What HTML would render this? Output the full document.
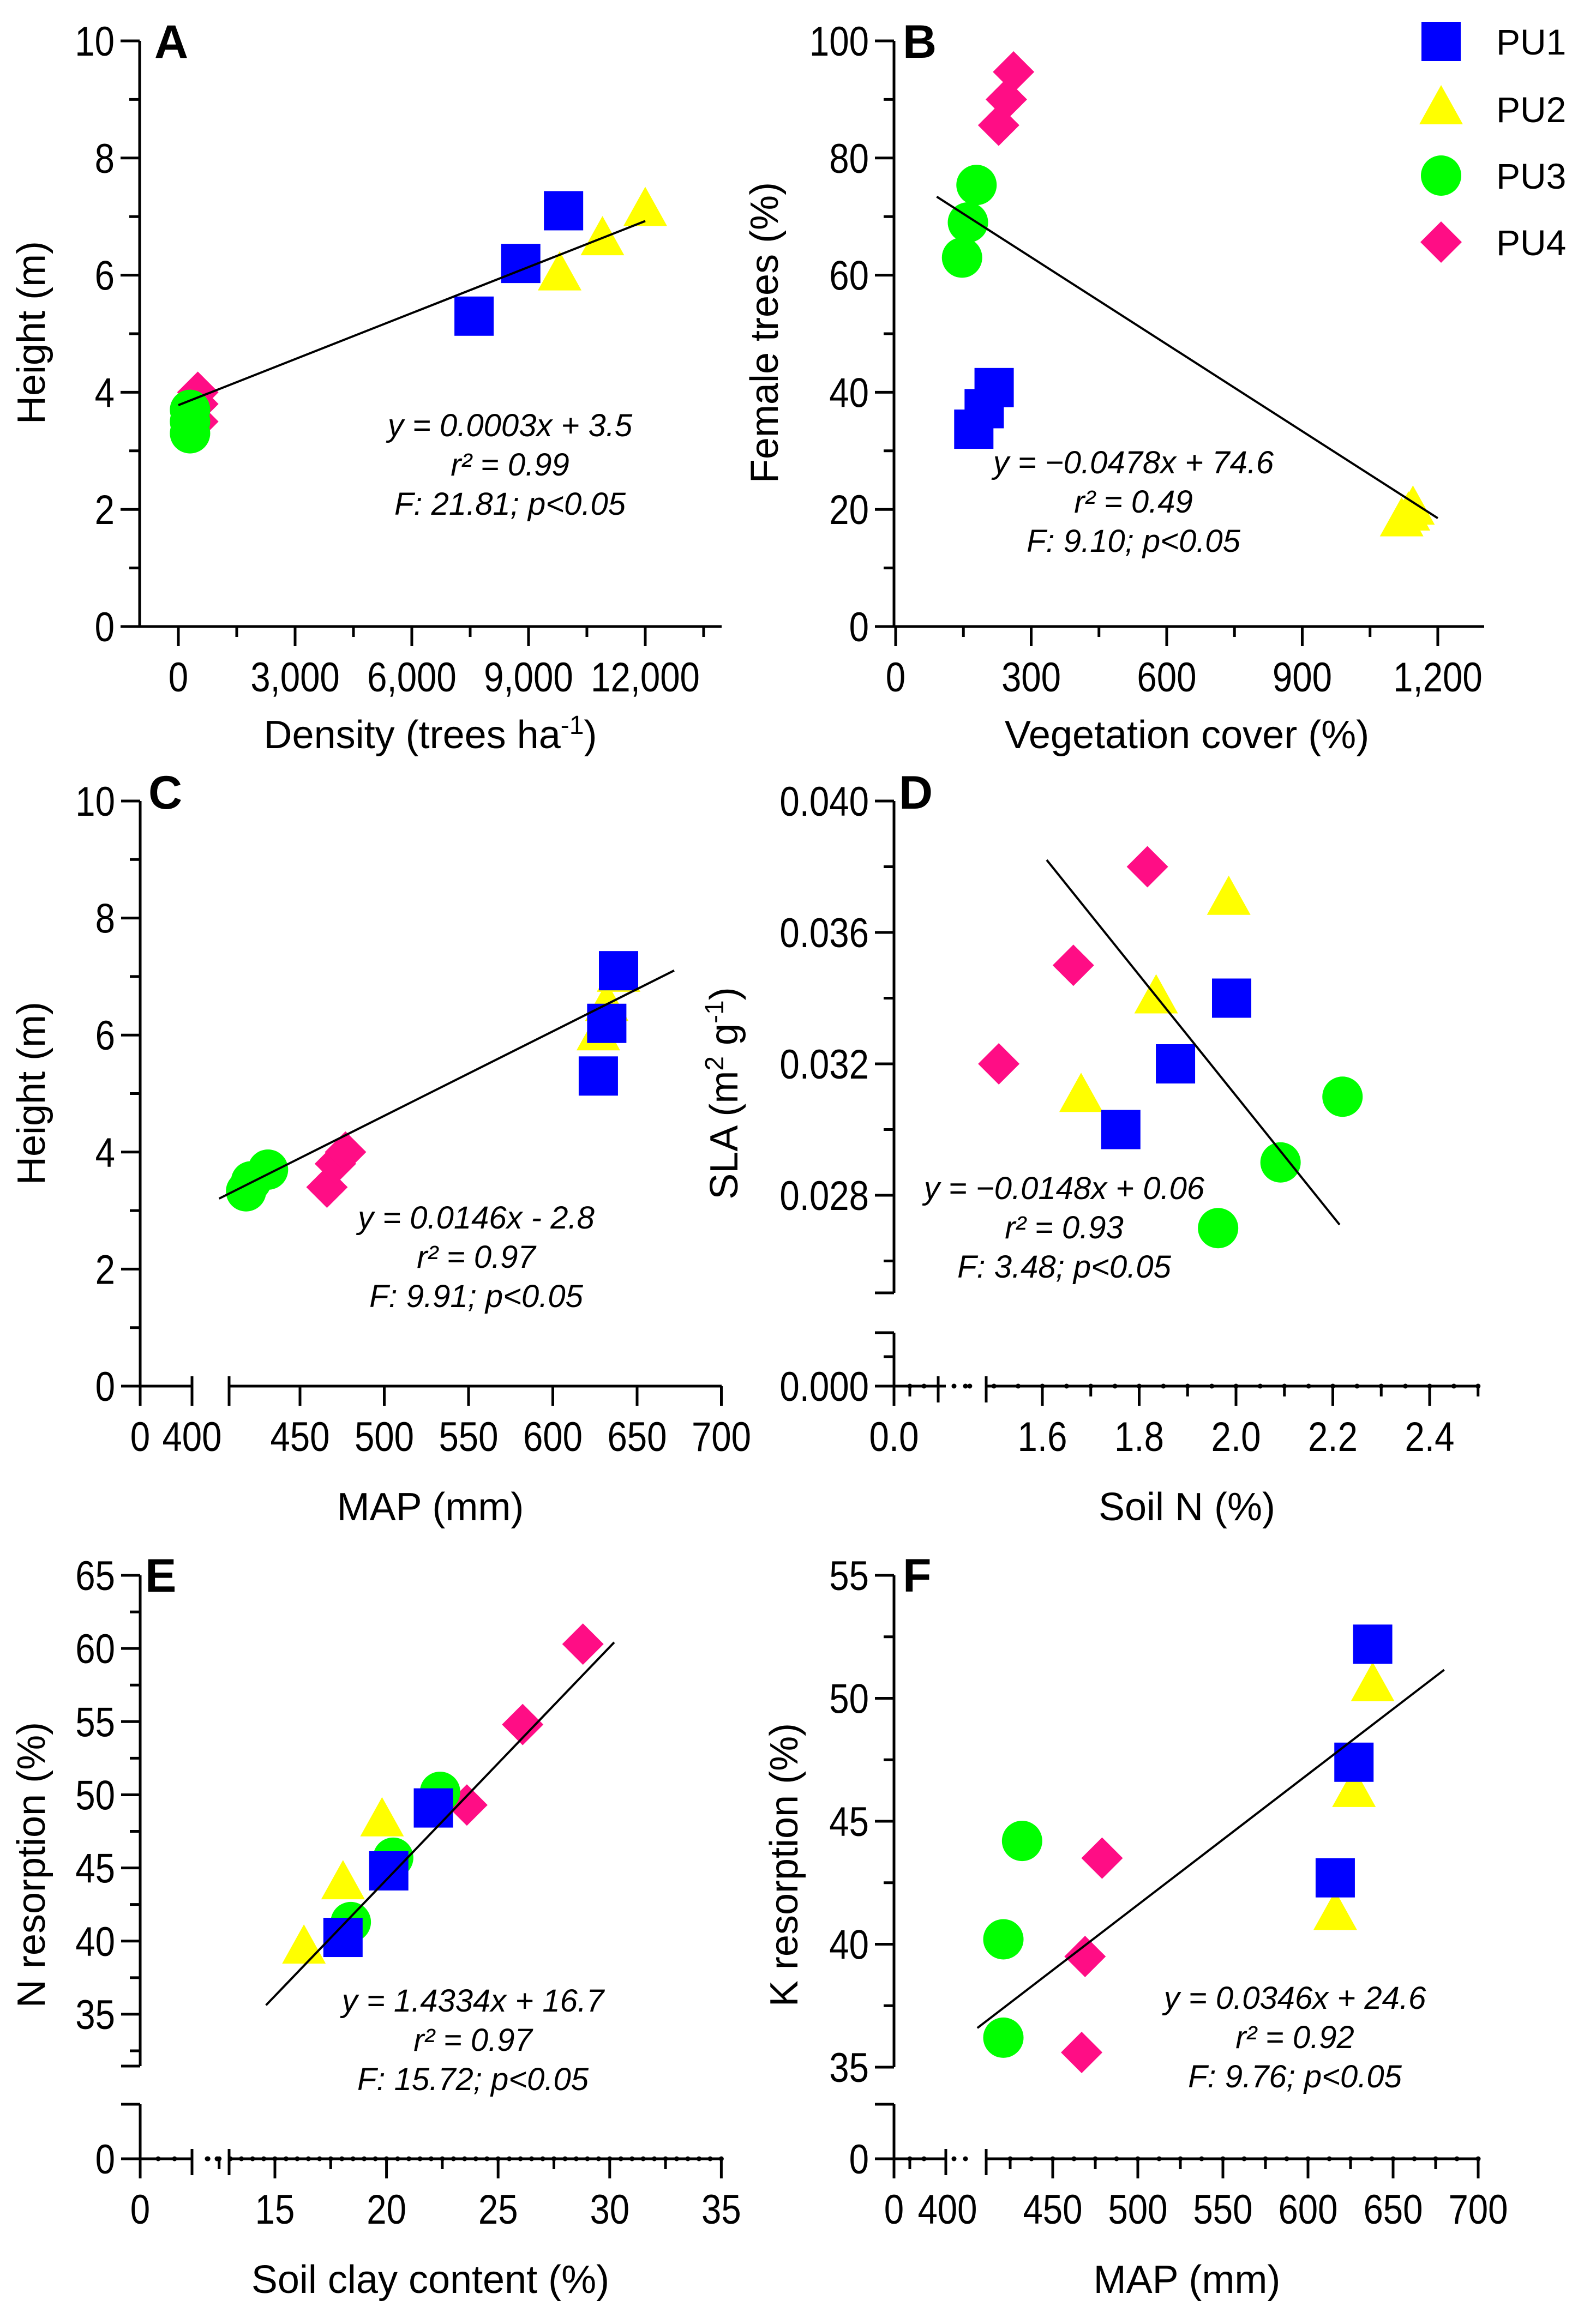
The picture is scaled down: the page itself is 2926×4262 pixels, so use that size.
<!DOCTYPE html>
<html><head><meta charset="utf-8"><style>
html,body{margin:0;padding:0;background:#fff;}
svg{display:block;}
text{font-family:"Liberation Sans",Arial,sans-serif;fill:#000;}
</style></head>
<body>
<svg id="fig" xmlns="http://www.w3.org/2000/svg" width="2926" height="4262" viewBox="0 0 2926 4262">
<rect width="2926" height="4262" fill="#fff"/>
</svg>
<script>
// ---------- DATA ----------
// Panel A: Density vs Height
const A_PU1_x=[7600,8800,9900], A_PU1_y=[5.3,6.2,7.1];
const A_PU2_x=[9800,10900,12000], A_PU2_y=[6.0,6.6,7.1];
const A_PU3_x=[300,300,300], A_PU3_y=[3.3,3.5,3.7];
const A_PU4_x=[500,500,500], A_PU4_y=[3.5,3.8,4.0];
const A_fit=[0.000262,3.78], A_fitRange=[0,12000];
// Panel B: Vegetation cover vs Female trees
const B_PU1_x=[173,196,218], B_PU1_y=[33.7,37.2,40.8];
const B_PU2_x=[1120,1135,1145], B_PU2_y=[18,19,20];
const B_PU3_x=[147,160,179], B_PU3_y=[63,69,75.4];
const B_PU4_x=[228,245,261], B_PU4_y=[85.6,90,94.7];
const B_fit=[-0.0495,77.9], B_fitRange=[91,1200];
// Panel C: MAP vs Height
const C_PU1_x=[627,632,639], C_PU1_y=[5.3,6.2,7.1];
const C_PU2_x=[627,632,639], C_PU2_y=[6.0,6.5,7.0];
const C_PU3_x=[418,421,431], C_PU3_y=[3.33,3.5,3.7];
const C_PU4_x=[466,471,477], C_PU4_y=[3.4,3.8,4.0];
const C_fit=[0.01444,-2.6], C_fitRange=[402,672];
// Panel D: Soil N vs SLA
const D_PU1_x=[1.762,1.875,1.991], D_PU1_y=[0.0300,0.0320,0.0340];
const D_PU2_x=[1.68,1.835,1.985], D_PU2_y=[0.031,0.034,0.037];
const D_PU3_x=[1.963,2.092,2.22], D_PU3_y=[0.0270,0.029,0.031];
const D_PU4_x=[1.51,1.664,1.817], D_PU4_y=[0.032,0.035,0.038];
const D_fit=[-0.01835,0.06773], D_fitRange=[1.609,2.214];
// Panel E: Soil clay vs N resorption
const E_PU1_x=[18.05,20.1,22.1], E_PU1_y=[40.25,44.8,49.1];
const E_PU2_x=[16.3,18.05,19.8], E_PU2_y=[39.5,43.9,48.2];
const E_PU3_x=[18.4,20.3,22.4], E_PU3_y=[41.3,45.7,50.2];
const E_PU4_x=[23.6,26.1,28.8], E_PU4_y=[49.3,54.8,60.3];
const E_fit=[1.59,12.4], E_fitRange=[14.6,30.2];
// Panel F: MAP vs K resorption
const F_PU1_x=[616,627,638], F_PU1_y=[42.7,47.4,52.2];
const F_PU2_x=[616,627,638], F_PU2_y=[41.2,46.2,50.5];
const F_PU3_x=[421,421,432], F_PU3_y=[36.2,40.2,44.2];
const F_PU4_x=[467,469,479], F_PU4_y=[35.6,39.5,43.5];
const F_fit=[0.0531,15.05], F_fitRange=[405.7,680];
// tick labels
const A_xLabels=[0,3000,6000,9000,12000], A_yLabels=[0,2,4,6,8,10];
const B_xLabels=[0,300,600,900,1200], B_yLabels=[0,20,40,60,80,100];
const C_xLabels=[450,500,550,600,650,700], C_yLabels=[0,2,4,6,8,10];
const D_xLabels=[1.6,1.8,2.0,2.2,2.4], D_yLabels=[0.028,0.032,0.036,0.040];
const E_xLabels=[15,20,25,30,35], E_yLabels=[35,40,45,50,55,60,65];
const F_xLabels=[450,500,550,600,650,700], F_yLabels=[35,40,45,50,55];

// ---------- DRAWING ----------
const svg=document.getElementById('fig');
const NS='http://www.w3.org/2000/svg';
function el(tag,attrs,parent){const e=document.createElementNS(NS,tag);for(const k in attrs)e.setAttribute(k,attrs[k]);(parent||svg).appendChild(e);return e;}
function line(x1,y1,x2,y2,g,w){return el('line',{x1,y1,x2,y2,stroke:'#000','stroke-width':w||5},g);}
function txt(s,x,y,size,g,anchor,extra){const t=el('text',Object.assign({x,y,'font-size':size,'text-anchor':anchor||'middle'},extra||{}),g);t.textContent=s;return t;}
function narrow(t,f){const L=t.getComputedTextLength();if(L>0){t.setAttribute('textLength',(L*f).toFixed(1));t.setAttribute('lengthAdjust','spacingAndGlyphs');}}

const COL={PU1:'#0000ff',PU2:'#ffff00',PU3:'#00ff00',PU4:'#ff0d85'};
function marker(kind,cx,cy,g){
  let m;
  if(kind==='PU1') m=el('rect',{x:cx-36,y:cy-36,width:72,height:72,fill:COL.PU1},g);
  else if(kind==='PU2') m=el('polygon',{points:`${cx},${cy-44} ${cx+40},${cy+28} ${cx-40},${cy+28}`,fill:COL.PU2},g);
  else if(kind==='PU3') m=el('circle',{cx,cy,r:37,fill:COL.PU3},g);
  else m=el('polygon',{points:`${cx},${cy-38} ${cx+38},${cy} ${cx},${cy+38} ${cx-38},${cy}`,fill:COL.PU4},g);
  return m;
}
function fmt(v,p){return p? v.toFixed(p): v.toLocaleString('en-US');}

function panel(id,cfg){
  const g=el('g',{});
  
  
  const X=cfg.X, Y=cfg.Y;
  const ax=el('g',{},g);
  
  
  cfg.ySegs.forEach(s=>line(cfg.ax,s[0],cfg.ax,s[1],ax));
  cfg.xSegs.forEach(s=>line(s[0],cfg.ay,s[1],cfg.ay,ax));
  cfg.yTicks.forEach(t=>line(cfg.ax-t[1],t[0],cfg.ax+(t[2]||0),t[0],ax));
  cfg.xTicks.forEach(t=>line(t[0],cfg.ay-(t[2]||0),t[0],cfg.ay+t[1],ax));
  (cfg.dots||[]).forEach(d=>el('circle',{cx:d,cy:cfg.ay,r:4.5,fill:'#000'},ax));
  cfg.yLab.forEach(l=>{const t=txt(l[0],cfg.ax-46,l[1]+27,76,ax,'end');narrow(t,0.86);});
  cfg.xLab.forEach(l=>{const t=txt(l[0],l[1],cfg.xLabY,76,ax,'middle');narrow(t,0.86);});
  const yt=txt('',cfg.ytX,cfg.ytY,72,g,'middle',{transform:`rotate(-90 ${cfg.ytX} ${cfg.ytY})`});
  yt.innerHTML=cfg.yTitle;
  
  
  const xt=txt('',cfg.xtX,cfg.xtY,72,g,'middle');
  xt.innerHTML=cfg.xTitle;
  
  
  const pl=txt(id,cfg.plX,cfg.plY,86,g,'start',{'font-weight':'bold'});
  
  
  ['PU4','PU3','PU2','PU1'].forEach(k=>{
    const xs=cfg.data[k][0], ys=cfg.data[k][1];
    xs.forEach((xv,i)=>{
      const m=marker(k,X(xv),Y(ys[i]),g);
      
      
    });
  });
  const f=cfg.fit, r=cfg.fitRange;
  const fl=line(X(r[0]),Y(f[0]*r[0]+f[1]),X(r[1]),Y(f[0]*r[1]+f[1]),g,4);
  
  
  const eq=el('g',{},g);
  
  
  cfg.eq.forEach((s,i)=>txt(s,cfg.eqX,cfg.eqY+i*72,58,eq,'middle',{'font-style':'italic'}));
}

function ticksRange(from,to,step,scale,majorEvery,majLen,minLen){
  const out=[];const n=Math.round((to-from)/step);
  for(let i=0;i<=n;i++){const v=from+i*step;const maj=Math.abs(v/majorEvery-Math.round(v/majorEvery))<1e-6;out.push([scale(v),maj?majLen:minLen]);}
  return out;
}

// Panel A
{const X=v=>327+v*0.07133, Y=v=>1149-v*107.4;
panel('A',{X,Y,ax:256,ay:1149,ySegs:[[75,1149]],xSegs:[[221,1323]],
 yTicks:ticksRange(0,10,1,Y,2,35,19),xTicks:ticksRange(0,13500,1500,X,3000,36,19),
 yLab:A_yLabels.map(v=>[String(v),Y(v)]),xLab:A_xLabels.map(v=>[fmt(v),X(v)]),xLabY:1268,
 yTitle:'Height (m)',ytX:82,ytY:610,xTitle:'Density (trees ha<tspan dy="-26" font-size="48">-1</tspan><tspan dy="26">)</tspan>',xtX:789,xtY:1372,
 plX:283,plY:106,data:{PU1:[A_PU1_x,A_PU1_y],PU2:[A_PU2_x,A_PU2_y],PU3:[A_PU3_x,A_PU3_y],PU4:[A_PU4_x,A_PU4_y]},
 fit:A_fit,fitRange:A_fitRange,eq:['y = 0.0003x + 3.5','r² = 0.99','F: 21.81; p<0.05'],eqX:935,eqY:800});}
// Panel B
{const X=v=>1642+v*0.8283, Y=v=>1149-v*10.74;
panel('B',{X,Y,ax:1639,ay:1149,ySegs:[[75,1149]],xSegs:[[1609,2721]],
 yTicks:ticksRange(0,100,10,Y,20,35,19),xTicks:ticksRange(0,1200,150,X,300,36,19),
 yLab:B_yLabels.map(v=>[String(v),Y(v)]),xLab:B_xLabels.map(v=>[fmt(v),X(v)]),xLabY:1268,
 yTitle:'Female trees (%)',ytX:1426,ytY:610,xTitle:'Vegetation cover (%)',xtX:2176,xtY:1372,
 plX:1655,plY:106,data:{PU1:[B_PU1_x,B_PU1_y],PU2:[B_PU2_x,B_PU2_y],PU3:[B_PU3_x,B_PU3_y],PU4:[B_PU4_x,B_PU4_y]},
 fit:B_fit,fitRange:B_fitRange,eq:['y = −0.0478x + 74.6','r² = 0.49','F: 9.10; p<0.05'],eqX:2078,eqY:868});}
// Panel C
{const X=v=>550+(v-450)*3.09, Y=v=>2542-v*107.3;
const xt=[[257,36],[352,36,18],[420,36,18]].concat(ticksRange(450,700,50,X,50,36,19));
panel('C',{X,Y,ax:257,ay:2542,ySegs:[[1469,2542]],xSegs:[[222,352],[420,1323]],
 yTicks:ticksRange(0,10,1,Y,2,35,19),xTicks:xt,
 yLab:C_yLabels.map(v=>[String(v),Y(v)]),xLab:[['0',257],['400',352]].concat(C_xLabels.map(v=>[String(v),X(v)])),xLabY:2661,
 yTitle:'Height (m)',ytX:82,ytY:2005,xTitle:'MAP (mm)',xtX:789,xtY:2788,
 plX:272,plY:1483,data:{PU1:[C_PU1_x,C_PU1_y],PU2:[C_PU2_x,C_PU2_y],PU3:[C_PU3_x,C_PU3_y],PU4:[C_PU4_x,C_PU4_y]},
 fit:C_fit,fitRange:C_fitRange,eq:['y = 0.0146x - 2.8','r² = 0.97','F: 9.91; p<0.05'],eqX:873,eqY:2253});}
// Panel D
{const X=v=>1911+(v-1.6)*887.5, Y=v=>1469+(0.040-v)*60250;
const yt=ticksRange(0.026,0.040,0.002,Y,0.004,35,19).concat([[2371,35],[2444,35],[2488,19],[2542,35]]);
const xt=[[1639,36],[1668,19],[1720,30,18],[1808,30,18]].concat(ticksRange(1.6,2.5,0.1,X,0.2,36,19));
const dots=[1668,1694,1749,1770];for(let v=1.45;v<=2.5;v+=0.05)dots.push(X(v));
panel('D',{X,Y,ax:1639,ay:2542,ySegs:[[1469,2371],[2444,2542]],xSegs:[[1604,1734],[1808,2710]],
 yTicks:yt,xTicks:xt,dots,
 yLab:D_yLabels.map(v=>[v.toFixed(3),Y(v)]).concat([['0.000',2542]]),xLab:[['0.0',1639]].concat(D_xLabels.map(v=>[v.toFixed(1),X(v)])),xLabY:2661,
 yTitle:'SLA (m<tspan dy="-26" font-size="48">2</tspan><tspan dy="26"> g</tspan><tspan dy="-26" font-size="48">-1</tspan><tspan dy="26">)</tspan>',ytX:1352,ytY:2005,xTitle:'Soil N (%)',xtX:2176,xtY:2788,
 plX:1648,plY:1483,data:{PU1:[D_PU1_x,D_PU1_y],PU2:[D_PU2_x,D_PU2_y],PU3:[D_PU3_x,D_PU3_y],PU4:[D_PU4_x,D_PU4_y]},
 fit:D_fit,fitRange:D_fitRange,eq:['y = −0.0148x + 0.06','r² = 0.93','F: 3.48; p<0.05'],eqX:1951,eqY:2199});}
// Panel E
{const X=v=>504+(v-15)*40.92, Y=v=>2889+(65-v)*26.83;
const yt=ticksRange(32.5,65,2.5,Y,5,35,19).concat([[3789,35],[3859,35],[3959,35]]);
const xt=[[257,36],[352,30,18],[420,30,18]].concat(ticksRange(12.5,35,2.5,X,5,36,19));
const dots=[290,320,380,398];for(let v=12;v<=35;v+=0.5)dots.push(X(v));
panel('E',{X,Y,ax:257,ay:3959,ySegs:[[2889,3789],[3859,3959]],xSegs:[[222,352],[420,1323]],
 yTicks:yt,xTicks:xt,dots,
 yLab:E_yLabels.map(v=>[String(v),Y(v)]).concat([['0',3959]]),xLab:[['0',257]].concat(E_xLabels.map(v=>[String(v),X(v)])),xLabY:4078,
 yTitle:'N resorption (%)',ytX:82,ytY:3420,xTitle:'Soil clay content (%)',xtX:789,xtY:4205,
 plX:266,plY:2919,data:{PU1:[E_PU1_x,E_PU1_y],PU2:[E_PU2_x,E_PU2_y],PU3:[E_PU3_x,E_PU3_y],PU4:[E_PU4_x,E_PU4_y]},
 fit:E_fit,fitRange:E_fitRange,eq:['y = 1.4334x + 16.7','r² = 0.97','F: 15.72; p<0.05'],eqX:867,eqY:3689});}
// Panel F
{const X=v=>1930+(v-450)*3.12, Y=v=>2889+(55-v)*45.1;
const yt=ticksRange(35,55,2.5,Y,5,35,19).concat([[3859,35],[3959,35]]);
const xt=[[1639,36],[1668,19],[1734,30,18],[1808,30,18]].concat(ticksRange(425,700,25,X,50,36,19));
const dots=[1668,1694,1749,1770];for(let v=425;v<=700;v+=12.5)dots.push(X(v));
panel('F',{X,Y,ax:1639,ay:3959,ySegs:[[2889,3791],[3859,3959]],xSegs:[[1604,1734],[1808,2710]],
 yTicks:yt,xTicks:xt,dots,
 yLab:F_yLabels.map(v=>[String(v),Y(v)]).concat([['0',3959]]),xLab:[['0',1639],['400',1737]].concat(F_xLabels.map(v=>[String(v),X(v)])),xLabY:4078,
 yTitle:'K resorption (%)',ytX:1462,ytY:3420,xTitle:'MAP (mm)',xtX:2176,xtY:4205,
 plX:1655,plY:2919,data:{PU1:[F_PU1_x,F_PU1_y],PU2:[F_PU2_x,F_PU2_y],PU3:[F_PU3_x,F_PU3_y],PU4:[F_PU4_x,F_PU4_y]},
 fit:F_fit,fitRange:F_fitRange,eq:['y = 0.0346x + 24.6','r² = 0.92','F: 9.76; p<0.05'],eqX:2374,eqY:3684});}

// Legend
const lg=el('g',{});


const legKeys=['PU1','PU2','PU3','PU4'], legY=[76,200,322,444];
legKeys.forEach((k,i)=>{
  const m=marker(k,2642,legY[i],lg);
  
  
  const t=txt(k,2743,legY[i]+24,66,lg,'start');
  
  
});
</script>
</body></html>
